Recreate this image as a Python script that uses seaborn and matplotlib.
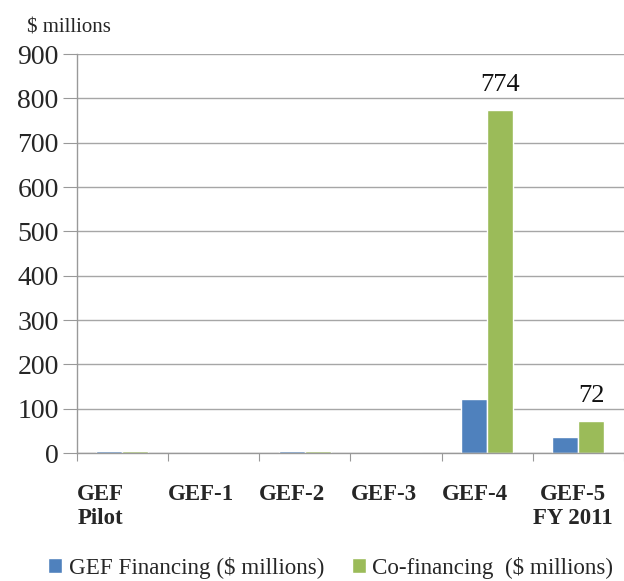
import pandas as pd
import seaborn as sns
import matplotlib.pyplot as plt
import numpy as np

# ---------------------------------------------------------
# Data
# ---------------------------------------------------------
phases = ["GEF\nPilot", "GEF-1", "GEF-2", "GEF-3", "GEF-4", "GEF-5\nFY 2011"]
gef_financing = [4, 0, 4, 0, 122, 36]
co_financing = [4, 0, 4, 0, 774, 72]
series_names = ["GEF Financing ($ millions)", "Co-financing  ($ millions)"]
labelled = {4: 774, 5: 72}  # phase index -> co-financing label

colors = ["#4F81BD", "#9BBB59"]
SERIF = ["Liberation Serif", "DejaVu Serif"]

df = pd.DataFrame({
    "phase": phases * 2,
    "series": [series_names[0]] * len(phases) + [series_names[1]] * len(phases),
    "value": gef_financing + co_financing,
})

sns.set_style("white")
plt.rcParams["font.family"] = SERIF

fig = plt.figure(figsize=(6.24, 5.81), dpi=100)
ax = fig.add_axes([0.123, 0.22, 0.877, 0.687])

sns.barplot(data=df, x="phase", y="value", hue="series", order=phases,
            palette=colors, width=0.57, gap=0, saturation=1, ax=ax, legend=True)

# value labels above the co-financing bars
for i, v in labelled.items():
    ax.annotate(f"{v}", (i + 0.1425, v), xytext=(0, 10), textcoords="offset points",
                ha="center", va="bottom", fontsize=19, color="#111111",
                family=SERIF)

# y axis
ax.set_ylim(0, 900)
ax.set_yticks(np.arange(0, 901, 100))
ax.tick_params(axis="y", labelsize=20, length=10, color="#999999", pad=3,
               left=True, direction="out")
ax.yaxis.grid(True, color="#A6A6A6", linewidth=1)
ax.set_axisbelow(True)

# x axis: tick marks on category boundaries, labels left-aligned at them
ax.set_xlim(-0.5, 5.5)
ax.set_xticks(np.arange(-0.5, 6, 1))
ax.set_xticklabels(phases + [""], ha="left", multialignment="center",
                   fontweight="bold", fontsize=16.5, family=SERIF)
ax.tick_params(axis="x", length=6, color="#999999", pad=16, bottom=True,
               direction="out")

for side in ["top", "right"]:
    ax.spines[side].set_visible(False)
for side in ["left", "bottom"]:
    ax.spines[side].set_color("#999999")
    ax.spines[side].set_linewidth(1)

ax.set_xlabel("")
ax.set_ylabel("")
fig.text(0.043, 0.935, "$ millions", fontsize=15, ha="left", va="bottom",
         family=SERIF)

handles, labels = ax.get_legend_handles_labels()
ax.get_legend().remove()
fig.legend(handles, labels, loc="lower center", bbox_to_anchor=(0.53, -0.032),
           ncol=2, frameon=False, prop={"family": SERIF, "size": 16.6},
           handlelength=0.6, handleheight=0.6, handletextpad=0.3,
           columnspacing=1.2)

plt.savefig("out.png", dpi=100)
plt.close()
